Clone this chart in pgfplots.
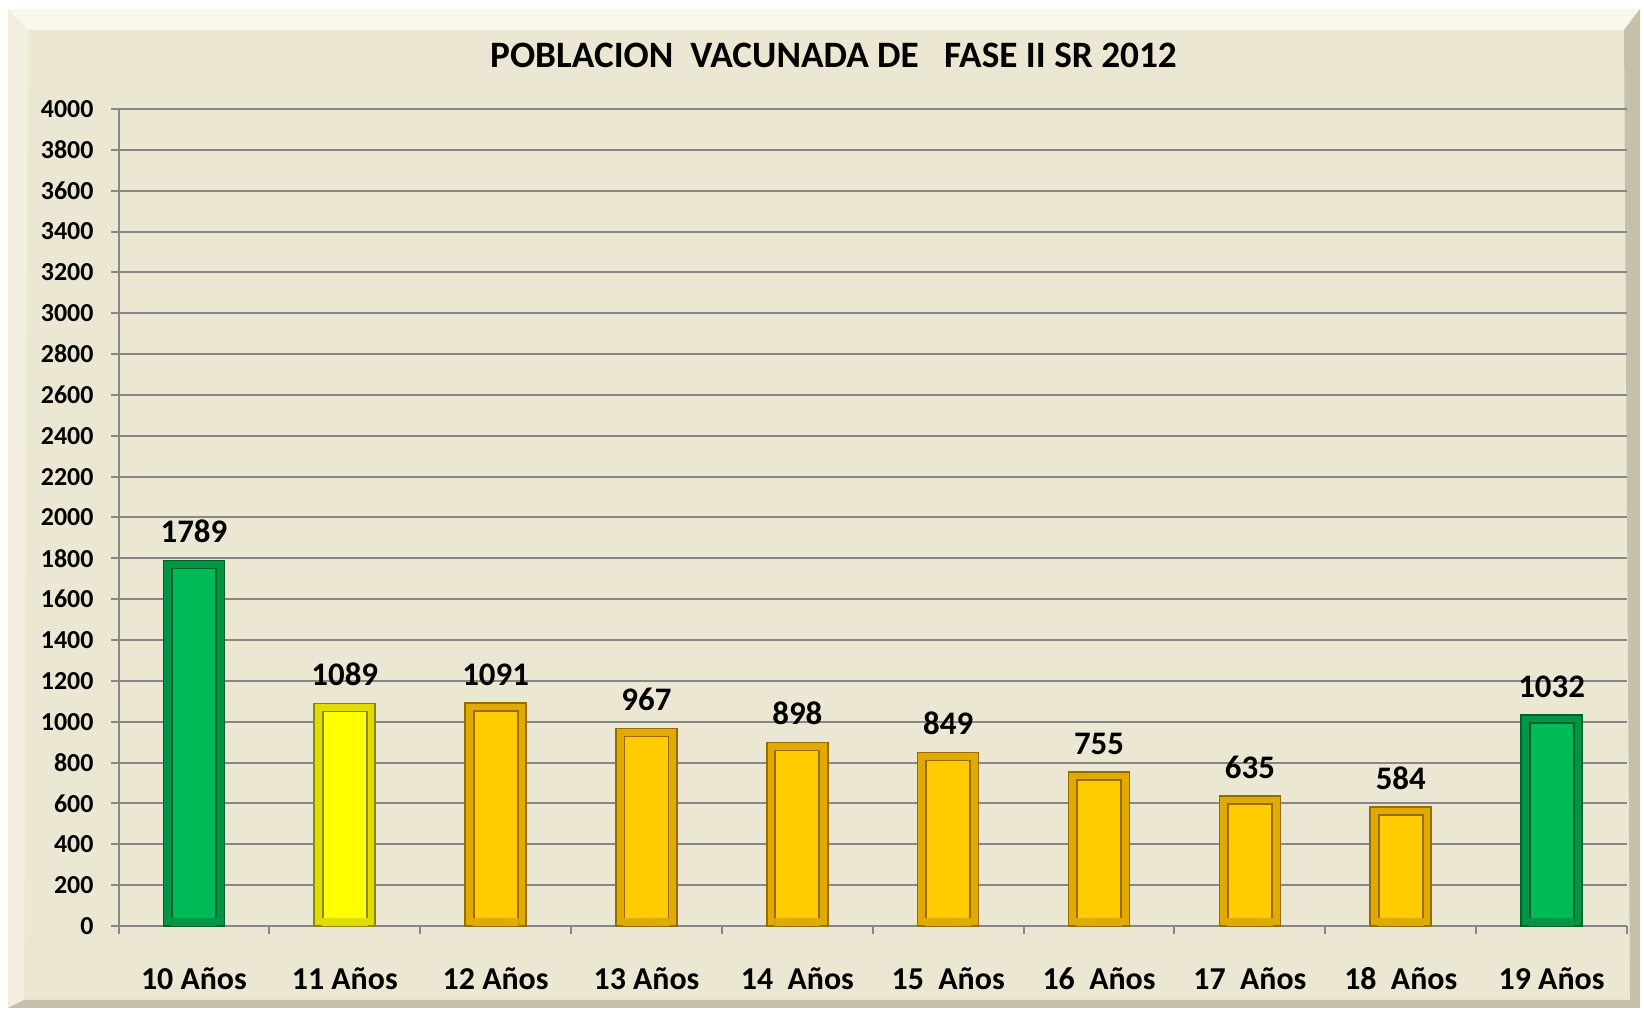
\documentclass[border=0pt]{standalone}
\usepackage{fontspec}
\setmainfont{Carlito}
\usepackage{pgfplots}
\usepackage{pgfplotstable}
\pgfplotsset{compat=1.18}
\definecolor{bg}{RGB}{235,231,211}
\definecolor{bglight}{RGB}{250,248,234}
\definecolor{bgdark}{RGB}{196,192,172}
\definecolor{gridgray}{RGB}{135,135,135}
\definecolor{grn}{RGB}{0,186,88}
\definecolor{grnrim}{RGB}{0,150,70}
\definecolor{grndark}{RGB}{0,95,42}
\definecolor{yel}{RGB}{255,255,0}
\definecolor{yelrim}{RGB}{225,220,0}
\definecolor{yeldark}{RGB}{140,135,0}
\definecolor{gold}{RGB}{255,204,0}
\definecolor{goldrim}{RGB}{225,170,0}
\definecolor{golddark}{RGB}{150,108,0}
\pgfplotstableread{
x v
0 1789
9 1032
}\green
\pgfplotstableread{
x v
1 1089
}\yellow
\pgfplotstableread{
x v
2 1091
3 967
4 898
5 849
6 755
7 635
8 584
}\goldtab
\begin{document}
\begin{tikzpicture}[x=1bp,y=1bp]
\fill[white] (0,0) rectangle (822,508);
\fill[bg] (4,4) rectangle (820,503.5);
\fill[bglight] (4,503.5) -- (820,503.5) -- (812,493) -- (14,493) -- cycle;
\fill[bglight!50!bg] (4,4) -- (4,503.5) -- (14,493) -- (12,8) -- cycle;
\fill[bgdark] (820,503.5) -- (820,4) -- (815,8) -- (812,493) -- cycle;
\fill[bgdark] (4,4) -- (820,4) -- (815,8) -- (12,8) -- cycle;
\node[font=\fontsize{18.7}{22}\selectfont\bfseries] at (416.75,480.5) {POBLACION\ \ VACUNADA DE\ \ \ FASE II SR 2012};
\begin{axis}[
  at={(59.25bp,45bp)}, anchor=south west,
  scale only axis, width=754.25bp, height=408.5bp,
  xmin=-0.5, xmax=9.5, ymin=0, ymax=4000,
  ytick={0,200,...,4000},
  ymajorgrids, grid style={draw=gridgray, line width=1bp},
  axis x line*=bottom, axis y line*=left,
  axis line style={draw=gridgray, line width=1bp},
  tick align=outside, major tick length=4bp,
  tick style={draw=gridgray, line width=1bp},
  xtick={-0.5,0.5,...,9.5}, xticklabels={},
  extra x ticks={0,1,...,9},
  extra x tick labels={10 Años, 11 Años, 12 Años, 13 Años, 14\ \ Años, 15\ \ Años, 16\ \ Años, 17\ \ Años, 18\ \ Años, 19 Años},
  extra x tick style={major tick length=0pt, tick style={draw=none}},
  xticklabel style={font=\fontsize{16}{18}\selectfont\bfseries, yshift=-16bp, text height=12bp, text depth=3bp, anchor=north},
  yticklabel style={font=\fontsize{13}{15}\selectfont\bfseries, xshift=-5bp},
  /pgf/number format/assume math mode=true,
  /pgf/number format/set thousands separator={},
  ybar, bar shift=0pt,
  clip=false,
]
\addplot[bar width=30.5bp, fill=grnrim, draw=grndark, line width=0.8bp,
  nodes near coords, nodes near coords style={font=\fontsize{16.5}{18}\selectfont\bfseries, black, yshift=5bp}]
  table[x=x,y=v] {\green};
\addplot[bar width=30.5bp, fill=yelrim, draw=yeldark, line width=0.8bp,
  nodes near coords, nodes near coords style={font=\fontsize{16.5}{18}\selectfont\bfseries, black, yshift=5bp}]
  table[x=x,y=v] {\yellow};
\addplot[bar width=30.5bp, fill=goldrim, draw=golddark, line width=0.8bp,
  nodes near coords, nodes near coords style={font=\fontsize{16.5}{18}\selectfont\bfseries, black, yshift=5bp}]
  table[x=x,y=v] {\goldtab};
\addplot[bar width=22bp, fill=grn, draw=grndark, line width=0.9bp] table[x=x,y expr=\thisrow{v}-39] {\green};
\addplot[bar width=22bp, fill=yel, draw=yeldark, line width=0.9bp] table[x=x,y expr=\thisrow{v}-39] {\yellow};
\addplot[bar width=22bp, fill=gold, draw=golddark, line width=0.9bp] table[x=x,y expr=\thisrow{v}-39] {\goldtab};
\addplot[bar width=23bp, fill=grnrim, draw=none] table[x=x,y expr=39] {\green};
\addplot[bar width=23bp, fill=yelrim, draw=none] table[x=x,y expr=39] {\yellow};
\addplot[bar width=23bp, fill=goldrim, draw=none] table[x=x,y expr=39] {\goldtab};
\end{axis}
\end{tikzpicture}
\end{document}
